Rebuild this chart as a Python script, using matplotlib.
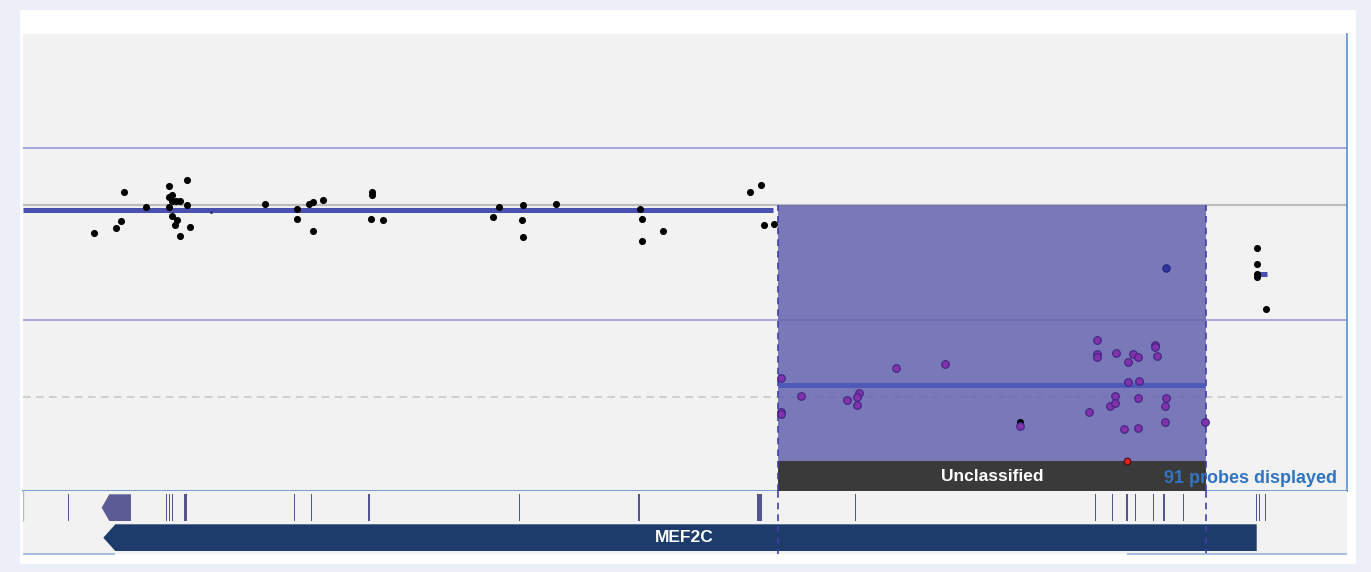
import matplotlib
matplotlib.use("Agg")
import matplotlib.pyplot as plt
from matplotlib.patches import Rectangle, Polygon

plt.rcParams['font.family'] = ['Liberation Sans', 'DejaVu Sans']

# probe positions (kb from window start) and log2 ratios
normal_x = [70.7, 93, 98, 101, 123.3, 146, 146, 148.7, 146, 149, 152.7, 156.7,
            148.7, 153.7, 151.7, 156.7, 164.3, 164.3, 167, 242.3, 274, 274,
            286.3, 290.3, 290.3, 299.7, 349.3, 349.3, 347.7, 360.3, 469.7, 476,
            500, 498.7, 500, 533, 617.3, 619, 619, 640, 727, 738, 740.7, 751.3,
            997, 1234, 1234, 1234, 1234, 1243]
normal_y = [-0.24, -0.20, -0.14, 0.12, -0.01, 0.17, 0.07, 0.09, -0.01, 0.04, 0.04, 0.04,
            -0.09, -0.13, -0.17, -0.27, 0.22, 0.00, -0.19, 0.01, -0.03, -0.12,
            0.01, 0.03, -0.22, 0.05, 0.12, 0.09, -0.12, -0.13, -0.10, -0.01,
            0.00, -0.13, -0.28, 0.01, -0.03, -0.12, -0.31, -0.22, 0.12, 0.18, -0.17, -0.16,
            -1.90, -0.37, -0.51, -0.60, -0.63, -0.91]

unclass_x = [757.7, 757.7, 757.7, 778.3, 823.7, 835.7, 834.3, 834.3, 873.3, 921.7,
             997, 1066.3, 1073.7, 1073.7, 1073.7, 1087, 1092, 1092, 1093.3, 1100.7,
             1105.3, 1105.3, 1110, 1114.7, 1115.7, 1114.7, 1114.7, 1132.3, 1132.3,
             1134, 1143, 1141.7, 1141.7, 1182.3]
unclass_y = [-1.51, -1.81, -1.83, -1.67, -1.70, -1.64, -1.68, -1.75, -1.42, -1.39,
             -1.93, -1.81, -1.18, -1.30, -1.33, -1.76, -1.67, -1.73, -1.29, -1.96,
             -1.37, -1.55, -1.30, -1.33, -1.54, -1.69, -1.95, -1.22, -1.24,
             -1.32, -1.69, -1.76, -1.90, -1.90]

gain_x, gain_y = [1143], [-0.55]
loss_x, loss_y = [1104], [-2.24]
faint_x, faint_y = [188], [-0.06]

# segment means
seg_x0 = [0, 755, 1232]
seg_x1 = [750, 1182, 1244]
seg_y = [-0.04, -1.57, -0.60]

# unclassified region
region_x0, region_x1 = 755, 1183
label_floor = -2.237

# MEF2C model (minus strand)
gene_start, gene_end = 80.3, 1233.7
first_exon = (78.7, 108)
exon_start = [45.3, 143.2, 146.2, 149.2, 161.2, 270.8, 287.5, 345, 495.8, 615, 734,
              831.8, 1071.5, 1088.8, 1102.7, 1111.8, 1129.8, 1140.3, 1159.8,
              1232.5, 1235.5, 1242.2]
exon_end = [46.3, 144.2, 147.2, 150.2, 164.2, 271.8, 288.5, 347, 496.8, 617, 739,
            832.8, 1072.5, 1089.8, 1104.7, 1112.8, 1130.8, 1142.3, 1160.8,
            1233.5, 1236.5, 1243.2]

W, H = 1371, 572
fig = plt.figure(figsize=(W / 100, H / 100), dpi=100)
fig.patch.set_facecolor('#eceef8')
fig.add_artist(Rectangle((20 / W, 8 / H), 1336 / W, 554 / H, transform=fig.transFigure,
                         facecolor='white', edgecolor='none', zorder=-5))

# --- ratio panel ---
ax = fig.add_axes([23 / W, 81 / H, 1324 / W, 457 / H])
ax.set_facecolor('#f2f2f2')
ax.set_xlim(0, 1324)
ax.set_ylim(-2.5, 1.5)
ax.set_xticks([])
ax.set_yticks([])
for side in ['top', 'left']:
    ax.spines[side].set_visible(False)
for side in ['right', 'bottom']:
    ax.spines[side].set_color('#5b8fd0')
    ax.spines[side].set_linewidth(1.2)

ax.axhline(0.5, color='#9494d8', lw=1.1, zorder=1)
ax.axhline(-1.0, color='#9494d8', lw=1.1, zorder=1)
ax.axhline(0, color='#bdbdbd', lw=1.6, zorder=1)
ax.axhline(-1.68, color='#c6c6c6', lw=1.1, dashes=(5, 3.5), zorder=1)

ax.add_patch(Rectangle((region_x0, label_floor), region_x1 - region_x0, -label_floor,
                       facecolor='#6464b0', alpha=0.85, edgecolor='none', zorder=2))
ax.add_patch(Rectangle((region_x0, -2.5), region_x1 - region_x0, label_floor + 2.5,
                       facecolor='#3a3a3a', edgecolor='none', zorder=3))
ax.vlines([region_x0, region_x1], -2.5, 0, colors='#4040aa', lw=1.2,
          linestyles=(0, (4, 3)), zorder=4)

ax.hlines(seg_y, seg_x0, seg_x1, colors=['#4a50b0', '#4f5ab8', '#4a50b0'], lw=3.6, zorder=4)

ax.scatter(normal_x, normal_y, s=26, c='black', linewidths=0, zorder=5)
ax.scatter(faint_x, faint_y, s=5, c='#30308a', linewidths=0, zorder=5)
ax.scatter(unclass_x, unclass_y, s=30, facecolor='#8232aa', edgecolor='#3e2482',
           linewidths=0.8, zorder=6)
ax.scatter(gain_x, gain_y, s=28, facecolor='#3232a0', edgecolor='#22227a',
           linewidths=0.8, zorder=6)
ax.scatter(loss_x, loss_y, s=24, facecolor='#e02020', edgecolor='#401010',
           linewidths=0.8, zorder=6)

ax.text((region_x0 + region_x1) / 2, -2.37, 'Unclassified', ha='center', va='center',
        color='white', fontweight='bold', fontsize=12.5, zorder=7)
ax.text(1314, -2.39, '91 probes displayed', ha='right', va='center',
        color='#2f75c2', fontweight='bold', fontsize=13, zorder=7)

# --- gene track ---
tr = fig.add_axes([23 / W, 18 / H, 1324 / W, 63 / H])
tr.set_facecolor('#f2f2f2')
tr.set_xlim(0, 1324)
tr.set_ylim(63, 0)
tr.set_xticks([])
tr.set_yticks([])
for s in tr.spines.values():
    s.set_visible(False)

widths = [e - s for s, e in zip(exon_start, exon_end)]
tr.bar(exon_start, 26.7, width=widths, bottom=3.3, align='edge',
       color='#55558e', linewidth=0)
fx0, fx1 = first_exon
tr.add_patch(Polygon([(fx0, 16.7), (fx0 + 7.6, 3.3), (fx1, 3.3), (fx1, 30), (fx0 + 7.6, 30)],
                     closed=True, facecolor='#5c5c94', edgecolor='none'))
tr.add_patch(Polygon([(gene_start, 46.7), (gene_start + 12, 33.3), (gene_end, 33.3),
                      (gene_end, 60), (gene_start + 12, 60)],
                     closed=True, facecolor='#1d3c6b', edgecolor='none'))
tr.text((gene_start + gene_end) / 2 + 4, 47, 'MEF2C', ha='center', va='center',
        color='white', fontweight='bold', fontsize=12.5)

tr.vlines([region_x0, region_x1], 0, 63, colors='#4040aa', lw=1.2,
          linestyles=(0, (4, 3)), clip_on=False)
tr.vlines([0], 0, 30, colors='#b0b8d0', lw=1)
tr.hlines([63, 63], [0, 1104], [92, 1324], colors='#9ab4dc', lw=1.2, clip_on=False)

fig.savefig('out.png', dpi=100)
